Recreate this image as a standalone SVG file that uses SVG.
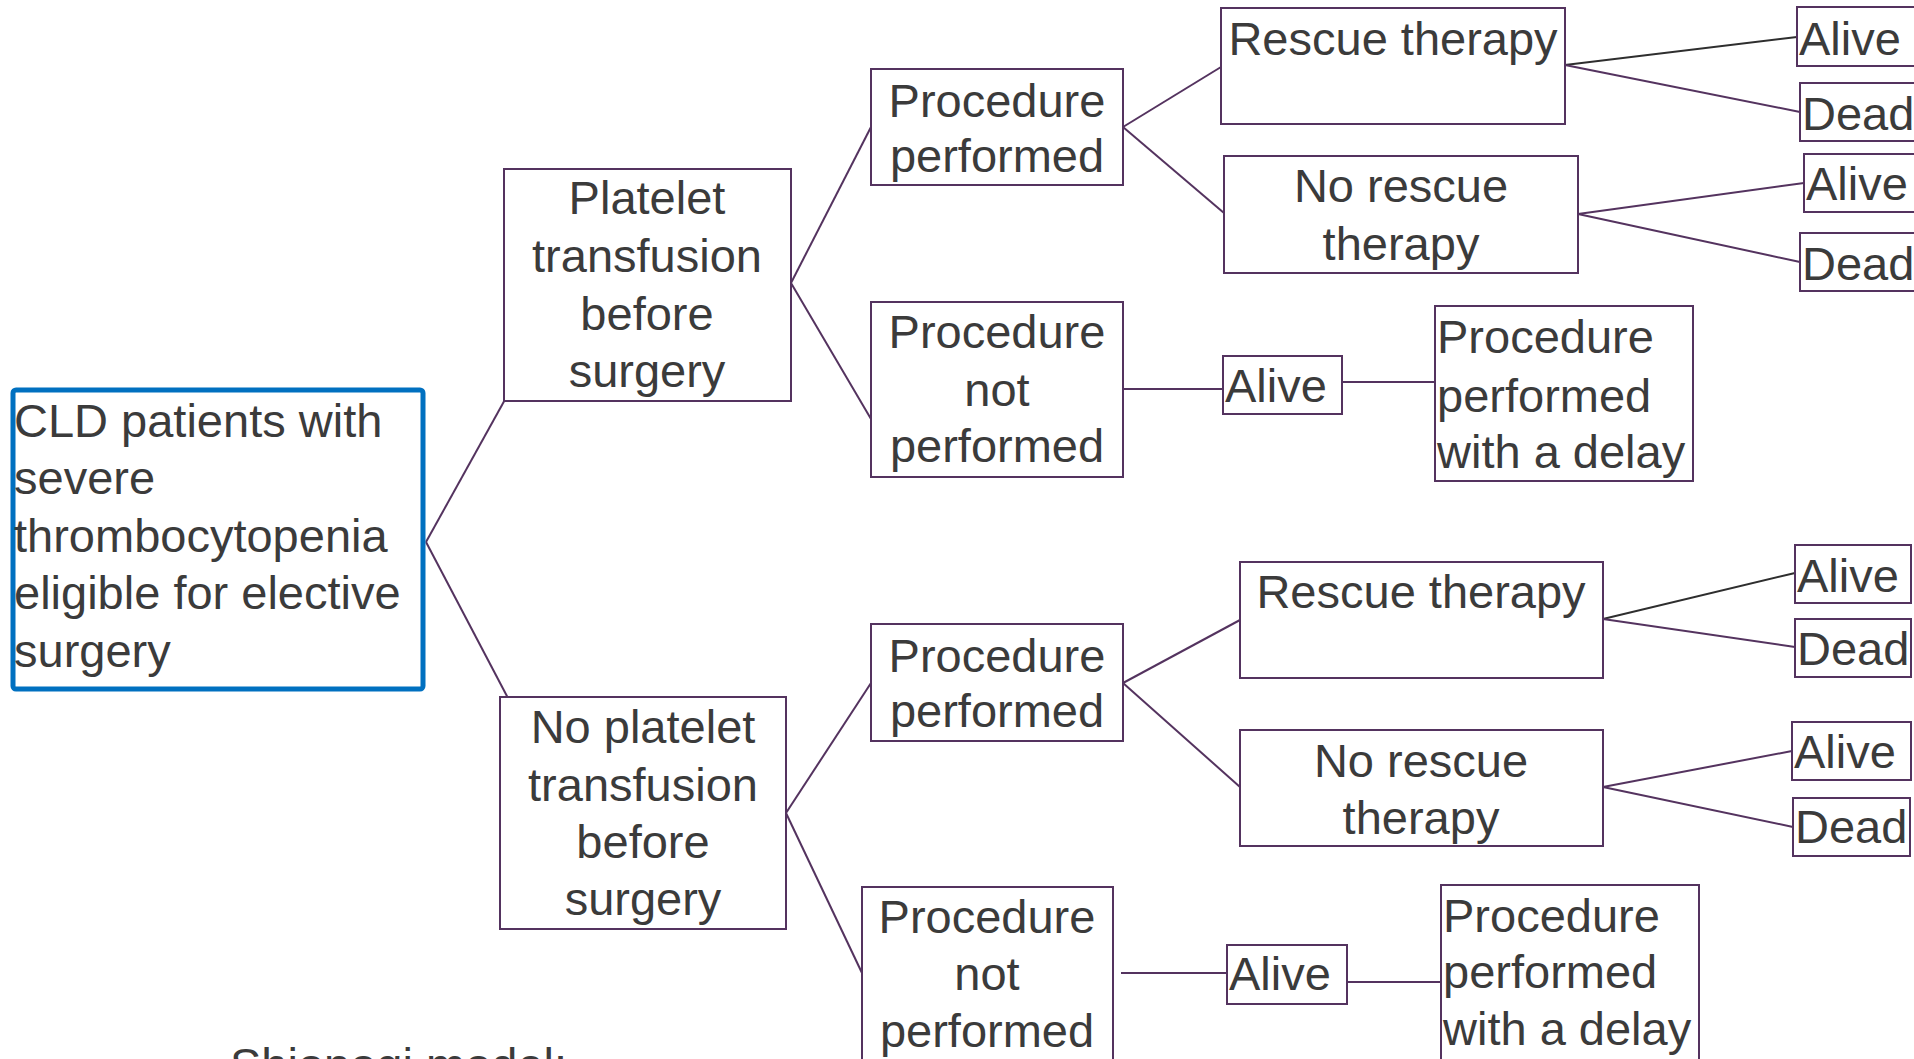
<svg xmlns="http://www.w3.org/2000/svg" width="1914" height="1059" viewBox="0 0 1914 1059">
  <style>
    .box { fill: #ffffff; stroke: #54335f; stroke-width: 2; }
    .root { fill: #ffffff; stroke: #0070c0; stroke-width: 5; }
    .lbl { font-family: "Liberation Sans", Arial, sans-serif; font-size: 47px; fill: #3b3b3b; }
    .mid { text-anchor: middle; }
    .edge { fill: none; stroke: #54335f; stroke-width: 2; }
    .edge.dark { stroke: #2e2e2e; }
  </style>
  <rect x="0" y="0" width="1914" height="1059" fill="#ffffff"/>

  <!-- branch lines -->
  <g id="connectors">
    <line class="edge" x1="426" y1="542" x2="507" y2="396"/>
    <line class="edge" x1="426" y1="542" x2="509" y2="700"/>
    <line class="edge" x1="791" y1="283" x2="871" y2="127"/>
    <line class="edge" x1="791" y1="283" x2="871" y2="419"/>
    <line class="edge" x1="1123" y1="127" x2="1221" y2="67"/>
    <line class="edge" x1="1123" y1="127" x2="1224" y2="213"/>
    <line class="edge dark" x1="1565" y1="65" x2="1797" y2="37"/>
    <line class="edge" x1="1565" y1="65" x2="1800" y2="112"/>
    <line class="edge" x1="1578" y1="214" x2="1804" y2="183"/>
    <line class="edge" x1="1578" y1="214" x2="1800" y2="262"/>
    <line class="edge" x1="1123" y1="389" x2="1223" y2="389"/>
    <line class="edge" x1="1342" y1="382" x2="1441" y2="382"/>
    <line class="edge" x1="786" y1="813" x2="871" y2="683"/>
    <line class="edge" x1="786" y1="813" x2="862" y2="973"/>
    <line class="edge" x1="1123" y1="683" x2="1240" y2="620"/>
    <line class="edge" x1="1123" y1="683" x2="1240" y2="787"/>
    <line class="edge dark" x1="1603" y1="619" x2="1795" y2="573"/>
    <line class="edge" x1="1603" y1="619" x2="1795" y2="647"/>
    <line class="edge" x1="1603" y1="787" x2="1792" y2="751"/>
    <line class="edge" x1="1603" y1="787" x2="1793" y2="827"/>
    <line class="edge" x1="1121" y1="973" x2="1227" y2="973"/>
    <line class="edge" x1="1344" y1="982" x2="1442" y2="982"/>
  </g>

  <!-- root -->
  <g id="root">
    <rect class="root" x="13" y="390" width="410" height="299" rx="3"/>
    <text class="lbl" x="14" y="437">CLD patients with</text>
    <text class="lbl" x="14" y="494">severe</text>
    <text class="lbl" x="14" y="552">thrombocytopenia</text>
    <text class="lbl" x="14" y="609">eligible for elective</text>
    <text class="lbl" x="14" y="667">surgery</text>
  </g>

  <!-- first split -->
  <g id="platelet">
    <rect class="box" x="504" y="169" width="287" height="232"/>
    <text class="lbl mid" x="647" y="214">Platelet</text>
    <text class="lbl mid" x="647" y="272">transfusion</text>
    <text class="lbl mid" x="647" y="330">before</text>
    <text class="lbl mid" x="647" y="387">surgery</text>
  </g>
  <g id="no-platelet">
    <rect class="box" x="500" y="697" width="286" height="232"/>
    <text class="lbl mid" x="643" y="743">No platelet</text>
    <text class="lbl mid" x="643" y="801">transfusion</text>
    <text class="lbl mid" x="643" y="858">before</text>
    <text class="lbl mid" x="643" y="915">surgery</text>
  </g>

  <!-- upper branch -->
  <g id="performed-1">
    <rect class="box" x="871" y="69" width="252" height="116"/>
    <text class="lbl mid" x="997" y="117">Procedure</text>
    <text class="lbl mid" x="997" y="172">performed</text>
  </g>
  <g id="not-performed-1">
    <rect class="box" x="871" y="302" width="252" height="175"/>
    <text class="lbl mid" x="997" y="348">Procedure</text>
    <text class="lbl mid" x="997" y="406">not</text>
    <text class="lbl mid" x="997" y="462">performed</text>
  </g>
  <g id="rescue-1">
    <rect class="box" x="1221" y="8" width="344" height="116"/>
    <text class="lbl mid" x="1393" y="55">Rescue therapy</text>
  </g>
  <g id="no-rescue-1">
    <rect class="box" x="1224" y="156" width="354" height="117"/>
    <text class="lbl mid" x="1401" y="202">No rescue</text>
    <text class="lbl mid" x="1401" y="260">therapy</text>
  </g>
  <g id="alive-delay-1">
    <rect class="box" x="1223" y="356" width="119" height="58"/>
    <text class="lbl" x="1225" y="402">Alive</text>
  </g>
  <g id="delay-1">
    <rect class="box" x="1435" y="306" width="258" height="175"/>
    <text class="lbl" x="1437" y="353">Procedure</text>
    <text class="lbl" x="1437" y="412">performed</text>
    <text class="lbl" x="1437" y="468">with a delay</text>
  </g>
  <g id="alive-1">
    <rect class="box" x="1797" y="7" width="140" height="59"/>
    <text class="lbl" x="1799" y="55">Alive</text>
  </g>
  <g id="dead-1">
    <rect class="box" x="1800" y="83" width="140" height="58"/>
    <text class="lbl" x="1802" y="130">Dead</text>
  </g>
  <g id="alive-2">
    <rect class="box" x="1804" y="154" width="140" height="58"/>
    <text class="lbl" x="1806" y="200">Alive</text>
  </g>
  <g id="dead-2">
    <rect class="box" x="1800" y="233" width="140" height="58"/>
    <text class="lbl" x="1802" y="280">Dead</text>
  </g>

  <!-- lower branch -->
  <g id="performed-2">
    <rect class="box" x="871" y="624" width="252" height="117"/>
    <text class="lbl mid" x="997" y="672">Procedure</text>
    <text class="lbl mid" x="997" y="727">performed</text>
  </g>
  <g id="not-performed-2">
    <rect class="box" x="862" y="887" width="251" height="200"/>
    <text class="lbl mid" x="987" y="933">Procedure</text>
    <text class="lbl mid" x="987" y="990">not</text>
    <text class="lbl mid" x="987" y="1047">performed</text>
  </g>
  <g id="rescue-2">
    <rect class="box" x="1240" y="562" width="363" height="116"/>
    <text class="lbl mid" x="1421" y="608">Rescue therapy</text>
  </g>
  <g id="no-rescue-2">
    <rect class="box" x="1240" y="730" width="363" height="116"/>
    <text class="lbl mid" x="1421" y="777">No rescue</text>
    <text class="lbl mid" x="1421" y="834">therapy</text>
  </g>
  <g id="alive-delay-2">
    <rect class="box" x="1227" y="945" width="120" height="59"/>
    <text class="lbl" x="1229" y="990">Alive</text>
  </g>
  <g id="delay-2">
    <rect class="box" x="1441" y="885" width="258" height="200"/>
    <text class="lbl" x="1443" y="932">Procedure</text>
    <text class="lbl" x="1443" y="988">performed</text>
    <text class="lbl" x="1443" y="1045">with a delay</text>
  </g>
  <g id="alive-3">
    <rect class="box" x="1795" y="545" width="116" height="58"/>
    <text class="lbl" x="1797" y="592">Alive</text>
  </g>
  <g id="dead-3">
    <rect class="box" x="1795" y="619" width="116" height="58"/>
    <text class="lbl" x="1797" y="665">Dead</text>
  </g>
  <g id="alive-4">
    <rect class="box" x="1792" y="722" width="119" height="58"/>
    <text class="lbl" x="1794" y="768">Alive</text>
  </g>
  <g id="dead-4">
    <rect class="box" x="1793" y="798" width="117" height="58"/>
    <text class="lbl" x="1795" y="843">Dead</text>
  </g>

  <!-- caption -->
  <text class="lbl" x="230" y="1081">Shionogi model:</text>
</svg>
